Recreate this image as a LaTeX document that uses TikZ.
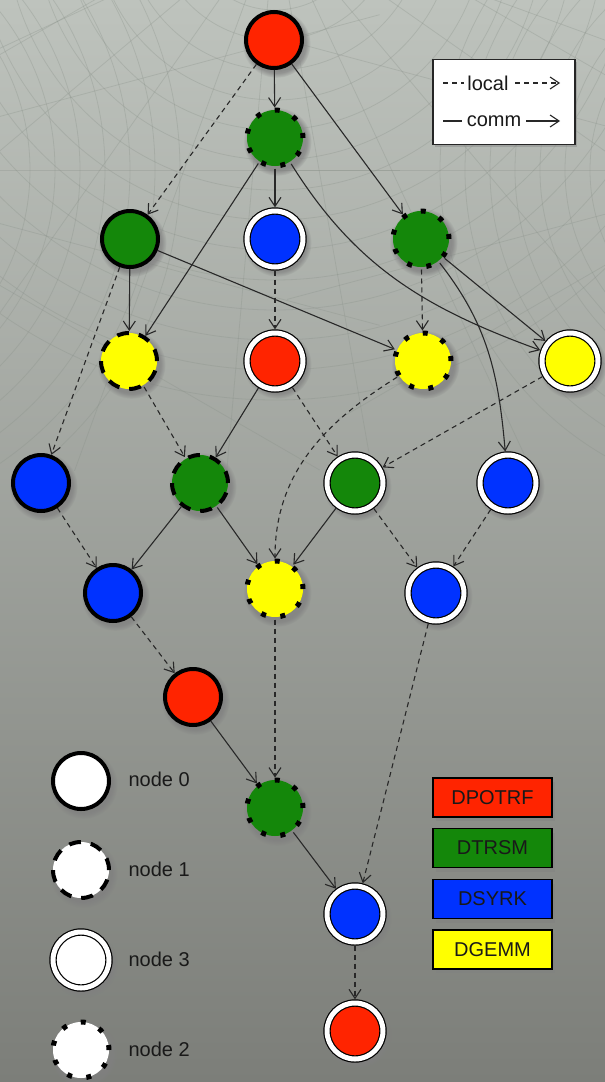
\documentclass[tikz,border=0pt]{standalone}
\usepackage{fontspec}
\setmainfont{Liberation Sans}
\usetikzlibrary{arrows.meta,shadows}
\definecolor{cred}{RGB}{255,36,0}
\definecolor{cgreen}{RGB}{20,135,10}
\definecolor{cblue}{RGB}{0,50,255}
\definecolor{cyellow}{RGB}{255,255,0}
\definecolor{bgtop}{RGB}{190,195,189}
\definecolor{bgmid}{RGB}{152,155,150}
\definecolor{bgbot}{RGB}{124,126,121}
\definecolor{edgec}{RGB}{40,40,40}
\definecolor{webc}{RGB}{135,143,135}
\tikzset{
  task/.style={circle, minimum size=56pt, inner sep=0pt,
    circular drop shadow={shadow xshift=2pt, shadow yshift=-3pt, opacity=0.7, shadow scale=1.22},
    drop shadow={shadow xshift=2pt, shadow yshift=-3pt, opacity=0.22, shadow scale=1.04}},
  rankA/.style={task, draw=black, line width=4pt},
  rankB/.style={task, draw=black, line width=4pt, dash pattern=on 12pt off 10pt},
  rankC/.style={task, draw=black, line width=5pt, dash pattern=on 5pt off 14.6pt},
  rankD/.style={task, draw=black, line width=1.2pt, double=white, double distance=5pt, outer sep=3.7pt},
  commedge/.style={draw=edgec, line width=1.1pt, -{Straight Barb[length=9pt,width=12pt]}},
  localedge/.style={commedge, dash pattern=on 5pt off 4pt},
  txt/.style={font=\fontsize{20}{24}\selectfont, text=black!90},
  kindbox/.style={txt, draw=black, line width=1.3pt, minimum width=119pt, minimum height=39pt, inner sep=0pt,
    drop shadow={shadow xshift=3pt, shadow yshift=-4pt, opacity=0.4}},
  webline/.style={draw=webc, line width=0.8pt, opacity=0.3},
}
\begin{document}
\begin{tikzpicture}[x=1pt,y=-1pt]
\useasboundingbox (0,0) rectangle (605,1082);
\shade[top color=bgtop, middle color=bgmid, bottom color=bgbot] (0,0) rectangle (605,1082);
% background web
\begin{scope}
  \clip (0,0) rectangle (605,470);
  \foreach \r in {60,90,...,480} \draw[webline] (275,-80) circle[radius=\r];
  \foreach \a in {20,35,...,160} \draw[webline] (275,-80) -- ++(\a:700);
  \foreach \r in {180,205,...,330} \draw[webline] (770,170) circle[radius=\r];
  \foreach \a in {150,165,...,210} \draw[webline] (770,170) -- ++(\a:500);
  \foreach \r in {230,255,...,380} \draw[webline] (-200,170) circle[radius=\r];
  \foreach \a in {-30,-15,...,30} \draw[webline] (-200,170) -- ++(\a:600);
\end{scope}

% task nodes
\node[rankA, fill=cred]    (A) at (274,40)  {};
\node[rankC, fill=cgreen]  (B) at (275,138) {};
\node[rankA, fill=cgreen]  (C) at (130,239) {};
\node[rankD, fill=cblue]   (D) at (275,239) {};
\node[rankC, fill=cgreen]  (E) at (421,239) {};
\node[rankB, fill=cyellow] (F) at (129,361) {};
\node[rankD, fill=cred]    (G) at (275,361) {};
\node[rankC, fill=cyellow] (H) at (423,361) {};
\node[rankD, fill=cyellow] (I) at (570,361) {};
\node[rankA, fill=cblue]   (J) at (41,483)  {};
\node[rankB, fill=cgreen]  (K) at (200,483) {};
\node[rankD, fill=cgreen]  (L) at (355,483) {};
\node[rankD, fill=cblue]   (M) at (508,483) {};
\node[rankA, fill=cblue]   (N) at (113,593) {};
\node[rankC, fill=cyellow] (O) at (275,589) {};
\node[rankD, fill=cblue]   (P) at (436,593) {};
\node[rankA, fill=cred]    (Q) at (193,697) {};
\node[rankC, fill=cgreen]  (R) at (275,808) {};
\node[rankD, fill=cblue]   (S) at (355,914) {};
\node[rankD, fill=cred]    (T) at (355,1031) {};

% edges
\draw[commedge]  (A) -- (B);
\draw[localedge] (A) -- (C);
\draw[commedge]  (A) -- (E);
\draw[commedge]  (B) -- (D);
\draw[commedge]  (B) -- (F);
\draw[commedge]  (B) to[out=-58, in=160] (I);
\draw[commedge]  (C) -- (F);
\draw[commedge]  (C) -- (H);
\draw[localedge] (C) -- (J);
\draw[localedge] (D) -- (G);
\draw[localedge] (E) -- (H);
\draw[commedge]  (E) -- (I);
\draw[commedge]  (E) to[out=-52, in=95] (M);
\draw[localedge] (F) -- (K);
\draw[commedge]  (G) -- (K);
\draw[localedge] (G) -- (L);
\draw[localedge] (H) to[out=212, in=90] (O);
\draw[localedge] (I) -- (L);
\draw[localedge] (J) -- (N);
\draw[commedge]  (K) -- (N);
\draw[commedge]  (K) -- (O);
\draw[commedge]  (L) -- (O);
\draw[localedge] (L) -- (P);
\draw[localedge] (M) -- (P);
\draw[localedge] (N) -- (Q);
\draw[localedge] (O) -- (R);
\draw[commedge]  (Q) -- (R);
\draw[localedge] (P) -- (S);
\draw[commedge]  (R) -- (S);
\draw[localedge] (S) -- (T);

% edge legend
\node[draw=black!85, line width=1.5pt, fill=white, minimum width=142pt, minimum height=85pt,
      drop shadow={shadow xshift=2pt, shadow yshift=-2pt, opacity=0.4}] (lbox) at (504,102) {};
\coordinate (la) at (443,83);
\coordinate (lb) at (560,83);
\coordinate (ca) at (443,121);
\coordinate (cb) at (560,121);
\draw[localedge] (la) -- (lb);
\draw[commedge] (ca) -- (cb);
\node[txt, fill=white, inner sep=3pt] (ltxt) at (488,83) {local};
\node[txt, fill=white, inner sep=5pt] (ctxt) at (494,121) {comm};

% node legend
\node[rankA, fill=white] (g0) at (81,781)  {};
\node[rankB, fill=white] (g1) at (81,870)  {};
\node[rankD, fill=white] (g3) at (81,960)  {};
\node[rankC, fill=white] (g2) at (81,1050) {};
\node[txt, anchor=west] (t0) at (125,779)  {node 0};
\node[txt, anchor=west] (t1) at (125,869)  {node 1};
\node[txt, anchor=west] (t3) at (125,959)  {node 3};
\node[txt, anchor=west] (t2) at (125,1049) {node 2};

% kernel legend
\node[kindbox, fill=cred]    (k1) at (492.5,797.5) {DPOTRF};
\node[kindbox, fill=cgreen]  (k2) at (492.5,848)   {DTRSM};
\node[kindbox, fill=cblue]   (k3) at (492.5,899)   {DSYRK};
\node[kindbox, fill=cyellow] (k4) at (492.5,949.5) {DGEMM};
\end{tikzpicture}
\end{document}
